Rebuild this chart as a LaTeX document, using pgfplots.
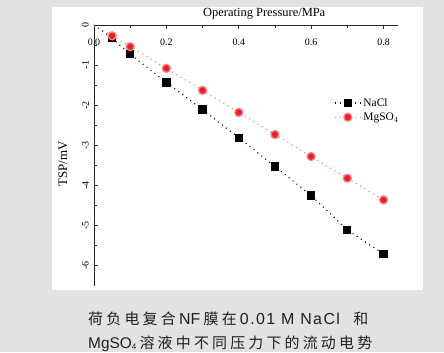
\documentclass[border=0pt]{standalone}
\usepackage{pgfplots}
\pgfplotsset{compat=1.18}
\usepackage{fontspec}
\setmainfont{Liberation Serif}
\newfontfamily\capfont{Liberation Sans}
\newfontfamily\capfontsp[LetterSpace=9]{Liberation Sans}
\newfontfamily\cjk{Noto Sans CJK SC}
\definecolor{bgG}{HTML}{E2E2E2}
\definecolor{mkred}{HTML}{E8202A}
\definecolor{lnred}{HTML}{D08080}
\begin{document}
\begin{tikzpicture}[x=1bp,y=1bp]
\fill[bgG] (0,0) rectangle (444,352);
\fill[white] (52,62) rectangle (423,345);
\useasboundingbox (0,0) rectangle (444,352);
\begin{axis}[
  scale only axis, width=304bp, height=260.7bp,
  at={(94bp,66.3bp)}, anchor=south west,
  xmin=0, xmax=0.84, ymin=-6.5, ymax=0,
  axis x line*=top, axis y line*=left,
  axis line style={-, line width=0.9pt, black!85},
  xtick={0,0.2,0.4,0.6,0.8}, minor x tick num=1,
  ytick={0,-1,-2,-3,-4,-5,-6}, minor y tick num=1,
  tick align=inside,
  major tick length=4bp, minor tick length=2.5bp,
  tick style={line width=0.8pt, black!85},
  /pgf/number format/assume math mode=true,
  xticklabel style={/pgf/number format/fixed, /pgf/number format/precision=1, /pgf/number format/fixed zerofill, anchor=north, yshift=-10bp, font=\fontsize{10}{12}\selectfont},
  yticklabel style={rotate=90, anchor=south, inner sep=5bp, font=\fontsize{10}{12}\selectfont},
  xlabel={Operating Pressure/MPa},
  xlabel style={at={(axis description cs:0.56,1.042)}, anchor=center, font=\fontsize{12.5}{14}\selectfont},
  ylabel={TSP/mV},
  ylabel style={at={(axis description cs:-0.102,0.467)}, anchor=center, font=\fontsize{13}{15}\selectfont},
  legend style={draw=none, fill=none, at={(axis description cs:0.78,0.735)}, anchor=north west, font=\fontsize{11.5}{13}\selectfont, row sep=1bp},
  legend cell align=left,
  legend image code/.code={\draw[mark repeat=2,mark phase=2,#1] plot coordinates {(0bp,0bp) (13bp,0bp) (26bp,0bp)};},
  clip=false,
]
\addplot[forget plot, black, line width=1.1bp, dash pattern=on 1bp off 4bp] coordinates {(0,0) (0.05,-0.33)};
\addplot[forget plot, lnred, line width=1.1bp, dash pattern=on 1bp off 4bp] coordinates {(0,0) (0.05,-0.27)};
\addplot[black, line width=1.1bp, dash pattern=on 1bp off 4bp, mark=square*, mark size=3.6bp, mark options={solid, fill=black, draw=black}] coordinates {
(0.05,-0.33) (0.1,-0.73) (0.2,-1.43) (0.3,-2.11) (0.4,-2.81) (0.5,-3.53) (0.6,-4.25) (0.7,-5.11) (0.8,-5.71)};
\addlegendentry{NaCl}
\addplot[lnred, line width=1.1bp, dash pattern=on 1bp off 4bp, mark=*, mark size=4bp, mark options={solid, fill=mkred, draw=mkred!55, line width=1.3bp}] coordinates {
(0.05,-0.27) (0.1,-0.54) (0.2,-1.08) (0.3,-1.63) (0.4,-2.18) (0.5,-2.73) (0.6,-3.28) (0.7,-3.82) (0.8,-4.36)};
\addlegendentry{MgSO$_4$}
\end{axis}
\node[anchor=base west, inner sep=0, text=black!88] at (88,28) {\hbox to 280bp{\fontsize{15}{18}\selectfont\cjk 荷\hfill 负\hfill 电\hfill 复\hfill 合\hfill{\capfont\fontsize{16}{18}\selectfont NF}\hfill 膜\hfill 在\hfill{\capfontsp\fontsize{16}{18}\selectfont 0.01 M NaCl}\hspace{10bp}\hfill 和}};
\node[anchor=base west, inner sep=0, text=black!88] at (88,4) {\hbox to 284bp{\fontsize{15}{18}\selectfont\cjk{\capfont\fontsize{15.5}{18}\selectfont MgSO\raisebox{-1.5bp}{\fontsize{8}{9}\selectfont 4}}\hfill 溶\hfill 液\hfill 中\hfill 不\hfill 同\hfill 压\hfill 力\hfill 下\hfill 的\hfill 流\hfill 动\hfill 电\hfill 势}};
\end{tikzpicture}
\end{document}
